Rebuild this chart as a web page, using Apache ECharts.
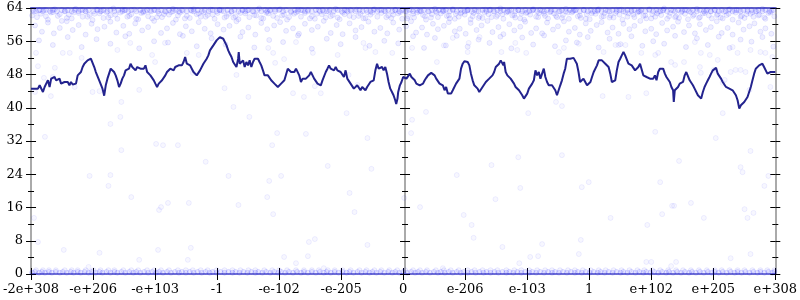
<!DOCTYPE html>
<html><head><meta charset="utf-8">
<script src="https://cdn.jsdelivr.net/npm/echarts@6/dist/echarts.min.js"></script>
<style>html,body{margin:0;padding:0;background:#fff}#c{width:800px;height:300px}</style>
</head><body><div id="c"></div>
<script>
// x tick labels (13 evenly spaced ticks over the axis)
const xTickLabels = ['-2e+308','-e+206','-e+103','-1','-e-102','-e-205','0','e-206','e-103','1','e+102','e+205','e+308'];

// running average line [position, value]
const avgLine = [
[0,44.6],[7,44.6],[8.7,45.4],[10.3,45.8],[12,43.8],[13.7,45.0],[15.3,45.8],[17,46.6],[18.7,45.0],[20.3,47.0],[22,47.2],[23.7,47.4],[25.3,46.6],[27,47.0],[28.7,47.0],[30.3,45.8],[32,45.4],[33.7,46.2],[35.3,45.8],[37,46.2],[38.7,45.4],[40.3,46.2],[42,45.6],[43.7,45.4],[45.3,45.8],[47,47.8],[48.7,48.2],[50.3,48.6],[52,49.8],[53.7,50.6],[55.3,51.0],[57,51.4],[58.7,51.4],[60.3,51.8],[62,51.4],[63.7,49.8],[65.3,48.6],[67,48.2],[68.7,46.6],[70.3,46.2],[72,44.6],[73.7,42.9],[75.3,45.4],[77,47.0],[78.7,47.4],[80.3,49.4],[82,49.4],[83.7,48.6],[85.3,47.8],[87,46.6],[88.7,45.0],[90.3,45.8],[92,47.0],[93.7,47.8],[95.3,49.0],[97,49.0],[98.7,49.4],[100.3,50.6],[102,49.8],[103.7,49.8],[105.3,49.0],[107,49.8],[108.7,49.4],[110.3,49.4],[112,49.8],[113.7,49.4],[115.3,50.2],[117,48.6],[118.7,48.6],[120.3,47.8],[122,47.8],[123.7,46.6],[125.3,45.8],[127,45.0],[128.7,45.8],[130.3,46.2],[132,46.6],[133.7,47.0],[135.3,47.8],[137,48.6],[138.7,48.2],[140.3,49.4],[142,49.4],[143.7,49.0],[145.3,49.8],[147,49.4],[148.7,50.2],[150.3,49.8],[152,50.2],[153.7,51.0],[155.3,52.2],[157,50.6],[158.7,50.6],[160.3,50.2],[162,49.4],[163.7,48.6],[165.3,48.2],[167,47.8],[168.7,47.8],[170.3,49.0],[172,49.4],[173.7,50.6],[175.3,51.0],[177,51.8],[178.7,52.6],[180.3,53.8],
[182,54.2],[183.7,55.0],[185.3,55.4],[187,56.2],[188.7,56.6],[190.3,57.0],[192,57.4],[193.7,56.6],[195.3,56.2],[197,55.0],[198.7,53.8],[200.3,53.0],[202,52.2],[203.7,51.0],[205.3,50.6],[207,49.8],[208.7,51.8],[209.3,53.4],[210.3,50.6],[212,51.0],[213.7,51.4],[215.3,49.8],[217,51.0],[218.7,50.2],[220.3,51.4],[222,49.8],[223.7,51.0],[225.3,51.8],[227,52.0],[228.7,51.8],[230.3,51.0],[232,50.2],[233.7,49.0],[235.3,47.8],[237,47.4],[238.7,47.8],[240.3,47.4],[242,46.6],[243.7,47.0],[245.3,45.8],[247,45.4],[248.7,45.0],[250.3,45.4],[252,45.8],[253.7,45.4],[255.3,46.6],[257,47.0],[258.7,49.4],[260.3,49.8],[262,48.6],[263.7,49.0],[265.3,48.6],[267,49.4],[268.7,49.8],[270.3,47.8],[272,46.2],[273.7,47.0],[275.3,47.4],[277,47.0],[278.7,47.4],[280.3,47.8],[282,48.6],[283.7,47.8],[285.3,47.0],[287,46.6],[288.7,45.8],[290.3,46.2],[292,45.4],[293.7,46.6],[295.3,46.6],[297,48.6],[298.7,49.4],[300.3,50.2],[302,49.4],[303.7,49.8],[305.3,49.0],[307,49.8],[308.7,49.0],[310.3,49.0],[312,48.6],[313.7,48.6],[315.3,47.4],[317,49.0],[318.7,47.0],[320.3,46.6],[322,45.8],[323.7,45.4],[325.3,44.6],[327,44.2],[328.7,45.4],[330.3,45.0],[332,44.2],[333.7,45.0],[335.3,44.6],[337,44.2],[338.7,45.0],[340.3,45.0],[342,46.2],[343.7,46.2],[345.3,46.6],[347,49.0],[348.7,50.6],[350.3,49.4],[352,49.4],[353.7,49.8],[355.3,49.0],[357,49.8],[358.7,48.2],[360.3,46.2],[362,44.6],[363.7,43.8],[365.3,43.0],[367,41.8],[368,40.9],[369.3,42.2],
[370,43.8],[371.7,45.4],[373.3,46.2],[375,47.4],[376.7,47.8],[378.3,47.0],[380,47.4],[381.7,48.2],[383.3,47.4],[385,47.0],[386.7,46.6],[388.3,45.8],[390,45.6],[391.7,45.4],[393.3,45.4],[395,45.8],[396.7,46.6],[398.3,47.2],[400,47.8],[401.7,48.2],[403.3,48.4],[405,48.2],[406.7,47.8],[408.3,47.0],[410,46.6],[411.7,45.8],[413.3,46.2],[415,45.4],[416.7,44.2],[418.3,45.0],[420,43.4],[421.7,43.8],[423.3,43.4],[425,44.2],[426.7,44.6],[428.3,45.8],[430,45.4],[431.7,47.0],[433.3,49.4],[435,50.6],[436.7,51.2],[438.3,51.4],[440,51.0],[441.7,50.2],[443.3,48.2],[445,46.6],[446.7,45.4],[448.3,45.0],[450,44.6],[451.7,43.8],[453.3,44.2],[455,45.0],[456.7,45.4],[458.3,46.2],[460,46.6],[461.7,47.0],[463.3,47.4],[465,47.8],[466.7,48.6],[468.3,49.8],[470,50.2],[471.7,50.6],[473.3,51.4],[475,51.8],[476,50.2],[476.7,51.0],[478.3,48.6],[480,47.8],[481.7,47.4],[483.3,47.0],[485,46.6],[486.7,45.8],[488.3,45.0],[490,44.6],[491.7,44.2],[493.3,43.8],[495,43.0],[496.7,42.2],[498.3,42.6],[500,43.4],[501.7,44.6],[503.3,44.2],[505,45.8],[506.7,46.6],[508.3,49.0],[510,47.8],[511.7,48.6],[513.3,47.0],[515,48.2],[516.7,49.4],[518.3,47.4],[520,46.2],[521.7,45.4],[523.3,45.0],[525,45.4],[526.7,45.0],[528.3,44.2],[530,43.0],[531.7,43.4],[533.3,45.4],[535,46.6],[536.7,48.2],[538.3,49.4],[540,51.8],[541.7,52.2],[543.3,51.8],[545,51.8],[546.7,52.0],[548.3,52.2],[550,50.6],[551.7,48.6],[553.3,46.2],[555,46.6],
[556.7,47.0],[558.7,46.6],[560.3,45.4],[562,45.8],[563.7,46.2],[565.3,47.4],[567,48.6],[568.7,49.0],[570.3,50.2],[572,51.4],[573.7,51.8],[575.3,51.4],[577,51.8],[578.7,50.6],[580.3,50.2],[582,49.8],[583.7,48.2],[585.3,46.2],[587,46.6],[588.7,46.6],[590.3,49.0],[592,51.0],[593.7,51.8],[595.3,52.6],[597,53.4],[598.7,52.6],[600.3,52.2],[602,50.6],[603.7,51.0],[605.3,50.2],[607,50.2],[608.7,49.0],[610.3,49.4],[612,49.8],[613.7,50.6],[615.3,50.2],[617,47.8],[618.7,47.4],[620.3,47.4],[622,47.0],[623.7,47.0],[625.3,46.6],[627,47.0],[628.7,47.8],[630.3,46.6],[632,48.6],[633.7,49.4],[635.3,49.8],[637,49.4],[638.7,48.2],[640.3,47.4],[642,47.0],[643.7,46.2],[645.3,45.0],[647,44.2],[647.7,41.4],[648.7,44.2],[650.3,44.6],[652,45.0],[653.7,45.8],[655.3,45.4],[657,46.2],[658.7,47.8],[660.3,48.6],[662,48.2],[663.7,46.6],[665.3,46.2],[667,45.4],[668.7,44.6],[670.3,44.2],[672,43.0],[673.7,43.4],[675.3,42.2],[677,43.8],[678.7,45.0],[680.3,45.8],[682,46.6],[683.7,47.4],[685.3,48.2],[687,49.0],[688.7,49.4],[690.3,49.6],[692,48.2],[693.7,47.8],[695.3,47.0],[697,46.2],[698.7,45.8],[700.3,45.0],[702,45.0],[703.7,44.6],[705.3,44.2],[707,44.2],[708.7,43.8],[710.3,43.0],[712,41.8],[713.7,39.8],[715.3,40.6],[717,41.0],[718.7,41.4],[720.3,41.8],[722,42.6],[723.7,43.0],[725.3,45.0],[727,46.6],[728.7,48.2],[730.3,49.4],[732,49.8],[733.7,50.2],[735.3,49.8],[737,50.6],[738.7,49.8],[740.3,50.2],[742,48.2],[743.7,48.6],[745.3,48.6],[747,48.6],[750,48.6]
];

// samples sitting at the top value (64) and at the bottom (0, ~1)
const topRowX = [2,9,15,22,31,37,44,52,58,67,73,80,88,95,101,110,117,124,131,139,146,152,161,168,175,183,190,198,205,213,219,228,236,241,250,257,266,272,279,287,294,301,309,316,322,331,338,345,353,360,367,374,381,389,396,404,411,418,425,433,440,447,455,462,470,476,484,491,498,506,513,520,528,535,543,549,557,564,571,579,586,593,601,608,615,623,630,637,645,652,659,667,674,681,689,696,703,711,718,726,733,740,748];
const topRowX2 = [5,12,19,26,34,41,48,55,63,70,77,84,92,98,106,113,121,128,135,143,149,157,164,172,179,187,194,202,209,216,224,232,238,246,254,262,269,276,283,291,298,305,313,319,327,334,342,349,357,364,371,378,385,393,400,408,415,422,429,437,444,451,459,466,473,480,488,495,502,510,517,524,532,539,546,553,561,568,575,583,590,597,605,612,619,627,634,641,649,656,663,671,678,685,693,700,707,715,722,730,737,744];
const zeroRowX = [1,8,14,21,29,36,43,50,58,65,72,80,87,95,103,110,118,126,133,141,149,156,164,172,180,187,195,203,210,218,226,233,241,249,256,264,272,279,287,295,302,310,318,325,333,341,348,356,364,371,379,387,394,402,410,417,425,433,440,448,456,463,471,479,486,494,502,509,517,525,532,540,548,555,563,571,578,586,594,601,609,617,624,632,640,647,655,663,670,678,686,693,701,709,716,724,732,739,747];
const zeroRowX2 = [4,11,18,25,32,40,47,54,61,69,76,84,91,99,106,114,122,129,137,145,152,160,168,176,183,191,199,206,214,222,229,237,245,252,260,268,275,283,291,298,306,314,321,329,337,344,352,360,367,375,383,390,398,406,413,421,429,436,444,452,459,467,475,482,490,498,505,513,521,528,536,544,551,559,567,574,582,590,597,605,613,620,628,636,643,651,659,666,674,682,689,697,705,712,720,728,735,743,749];
const oneRowX = [5,12,18,25,34,41,47,55,63,70,78,84,93,101,108,117,124,131,139,148,156,163,171,178,187,195,203,211,219,226,235,243,250,258,267,275,283,290,299,306,314,322,331,338,346,353,361,369,377,385,392,399,408,416,423,431,440,447,455,463,470,479,487,494,502,510,518,525,533,541,548,556,564,572,579,587,595,603,611,618,626,634,642,650,657,665,673,681,689,696,704,712,719,727,735,742,749];

// dense band of samples near the top
const bandHigh = [[3,63.1],[6,61.8],[10,62.6],[13,63.5],[17,61.2],[20,62.9],[24,63.7],[27,62.1],[31,60.9],[34,63.3],[38,62.4],[41,61.5],[45,63.8],[48,62.8],[52,61.9],[55,63.2],[59,62.3],[62,61.1],[66,63.6],[69,62.7],[73,61.6],[76,63.0],[80,62.2],[83,63.9],[87,61.4],[90,62.9],[94,63.4],[97,61.9],[101,62.5],[104,63.6],[108,61.3],[111,62.8],[115,63.2],[118,62.0],[122,61.5],[125,63.5],[129,62.6],[132,61.8],[136,63.1],[139,62.4],[143,63.8],[146,61.2],[150,62.9],[153,63.3],[157,62.1],[160,61.6],[164,63.7],[167,62.5],[171,61.9],[174,63.0],[178,62.3],[181,63.6],[185,61.4],[188,62.8],[192,63.4],[195,61.7],[199,62.6],[202,63.1],[206,62.0],[209,61.3],[213,63.5],[216,62.7],[220,61.8],[223,63.2],[227,62.2],[230,63.9],[234,61.5],[237,62.9],[241,63.3],[244,62.1],[248,61.6],[251,63.7],[255,62.4],[258,61.2],[262,63.0],[265,62.6],[269,63.6],[272,61.9],[276,62.8],[279,63.2],[283,62.0],[286,61.4],[290,63.5],[293,62.5],[297,61.7],[300,63.1],[304,62.3],[307,63.8],[311,61.3],[314,62.9],[318,63.4],[321,62.1],[325,61.8],[328,63.6],[332,62.6],[335,61.5],[339,63.0],[342,62.4],[346,63.7],[349,61.9],[353,62.8],[356,63.3],[360,62.2],[363,61.6],[367,63.5],[370,62.7],[374,61.4],[377,63.2],
[380,62.0],[383,63.6],[386,61.7],[389,62.9],[392,63.4],[395,62.3],[398,61.2],[401,63.1],[404,62.5],[407,63.8],[410,61.8],[413,62.7],[416,63.3],[419,62.1],[422,61.5],[425,63.7],[428,62.6],[431,61.9],[434,63.0],[437,62.4],[440,63.5],[443,61.3],[446,62.8],[449,63.2],[452,62.0],[455,61.6],[458,63.6],[461,62.5],[464,61.8],[467,63.1],[470,62.3],[473,63.9],[476,61.4],[479,62.9],[482,63.4],[485,62.2],[488,61.7],[491,63.5],[494,62.6],[497,61.2],[500,63.0],[503,62.4],[506,63.7],[509,61.9],[512,62.8],[515,63.3],[518,62.1],[521,61.5],[524,63.6],[527,62.7],[530,61.8],[533,63.2],[536,62.3],[539,63.8],[542,61.4],[545,62.9],[548,63.4],[551,62.0],[554,61.6],[557,63.5],[560,62.5],[563,61.3],[566,63.1],[569,62.6],[572,63.7],[575,61.9],[578,62.8],[581,63.3],[584,62.2],[587,61.7],[590,63.6],[593,62.4],[596,61.2],[599,63.0],[602,62.7],[605,63.5],[608,61.8],[611,62.9],[614,63.2],[617,62.1],[620,61.5],[623,63.7],[626,62.5],[629,61.9],[632,63.1],[635,62.3],[638,63.9],[641,61.4],[644,62.8],[647,63.4],[650,62.0],[653,61.6],[656,63.6],[659,62.6],[662,61.3],[665,63.0],[668,62.4],[671,63.8],[674,61.8],[677,62.7],[680,63.3],[683,62.2],[686,61.5],[689,63.5],[692,62.5],[695,61.7],[698,63.1],[701,62.3],[704,63.7],[707,61.2],[710,62.9],[713,63.4],[716,62.1],[719,61.6],[722,63.6],[725,62.6],[728,61.9],[731,63.2],[734,62.4],[737,63.8],[740,61.4],[743,62.8],[746,63.3],[749,62.0]];
const bandHigh2 = [[1,62.2],[8,63.4],[15,62.0],[22,63.0],[29,62.5],[36,61.6],[43,62.9],[50,63.5],[57,61.9],[64,62.6],[71,63.3],[78,61.7],[85,62.4],[92,63.6],[99,62.1],[106,61.4],[113,62.9],[120,63.4],[127,61.8],[134,62.5],[141,63.0],[148,62.2],[155,61.5],[162,63.3],[169,62.7],[176,61.9],[183,62.4],[190,63.5],[197,62.0],[204,61.7],[211,62.8],[218,63.4],[225,62.3],[232,61.6],[239,62.7],[246,63.6],[253,62.2],[260,61.8],[267,62.9],[274,63.4],[281,61.5],[288,62.6],[295,63.1],[302,62.0],[309,61.7],[316,62.5],[323,63.3],[330,62.1],[337,61.6],[344,62.9],[351,63.5],[358,61.8],[365,62.4],[372,63.0],[379,61.5],[385,62.6],[391,63.2],[397,62.0],[403,61.7],[409,62.9],[415,63.5],[421,62.2],[427,61.4],[433,62.7],[439,63.3],[445,62.0],[451,61.6],[457,62.9],[463,63.6],[469,61.9],[475,62.5],[481,63.1],[487,62.3],[493,61.5],[499,62.8],[505,63.4],[511,61.8],[517,62.6],[523,63.0],[529,62.1],[535,61.6],[541,62.9],[547,63.5],[553,62.2],[559,61.4],[565,62.7],[571,63.3],[577,62.0],[583,61.7],[589,62.8],[595,63.6],[601,61.9],[607,62.4],[613,63.1],[619,62.2],[625,61.5],[631,62.7],[637,63.4],[643,62.0],[649,61.8],[655,62.9],[661,63.5],[667,62.1],[673,61.6],[679,62.8],[685,63.2],[691,62.3],[697,61.5],[703,62.6],[709,63.4],[715,61.9],[721,62.5],[727,63.0],[733,62.2],[739,61.7],[745,62.9]];
const bandMid = [[4,59.8],[11,58.3],[17,60.5],[23,57.9],[29,59.2],[36,60.8],[42,58.7],[48,59.9],[55,57.6],[61,60.2],[67,58.9],[74,59.5],[80,60.7],[86,58.1],[93,59.7],[99,57.8],[105,60.3],[112,58.6],[118,59.4],[124,60.9],[131,58.0],[137,59.1],[143,60.4],[150,57.7],[156,59.6],[162,58.4],[169,60.6],[175,59.0],[181,57.9],[188,60.1],[194,58.8],[200,59.7],[207,60.8],[213,58.2],[219,59.3],[226,57.6],[232,60.4],[238,58.9],[245,59.8],[251,60.6],[257,58.5],[264,59.1],[270,57.8],[276,60.2],[283,58.7],[289,59.5],[295,60.9],[302,58.0],[308,59.9],[314,57.7],[321,60.3],[327,58.6],[333,59.4],[340,60.7],[346,58.3],[352,59.2],[359,57.9],[365,60.5],[371,58.8],[378,59.6],[383,60.8],[388,58.1],[394,59.3],[399,57.6],[405,60.2],[410,58.9],[416,59.7],[421,60.6],[427,58.4],[432,59.0],[438,57.8],[443,60.4],[449,58.7],[454,59.8],[460,60.9],[465,58.2],[471,59.4],[476,57.7],[482,60.1],[487,58.6],[493,59.5],[498,60.7],[504,58.0],[509,59.1],[515,57.9],[520,60.5],[526,58.8],[531,59.6],[537,60.8],[542,58.3],[548,59.2],[553,57.6],[559,60.3],[564,58.5],[570,59.9],[575,60.6],[581,58.1],[586,59.3],[592,57.8],[597,60.2],[603,58.9],[608,59.7],[614,60.9],[619,58.4],[625,59.0],[630,57.7],[636,60.4],[641,58.6],[647,59.5],[652,60.7],[658,58.2],[663,59.8],[669,57.9],[674,60.1],[680,58.7],[685,59.4],[691,60.8],[696,58.0],[702,59.2],[707,57.6],[713,60.5],[718,58.8],[724,59.6],[729,60.3],[735,58.3],[740,59.1],[746,57.8]];
const bandLow = [[8,56.2],[22,55.1],[37,57.0],[51,54.6],[66,56.5],[80,55.4],[95,57.2],[109,54.3],[124,56.0],[138,55.7],[153,57.3],[167,54.8],[182,56.7],[196,55.2],[211,57.1],[225,54.5],[240,56.3],[254,55.8],[269,57.4],[283,54.2],[298,56.6],[312,55.3],[327,57.0],[341,54.9],[356,56.1],[370,55.5],[385,57.2],[396,54.4],[407,56.8],[418,55.0],[429,57.3],[440,54.7],[451,56.4],[462,55.6],[473,57.1],[484,54.3],[495,56.9],[506,55.2],[517,57.4],[528,54.8],[539,56.2],[550,55.7],[561,57.0],[572,54.5],[583,56.6],[594,55.3],[605,57.2],[616,54.9],[627,56.0],[638,55.4],[649,57.3],[660,54.6],[671,56.7],[682,55.1],[693,57.1],[704,54.4],[715,56.4],[726,55.9],[737,57.0],[748,54.7]];
// scattered individual samples
const sparse = [[14,33.0],[80,36.1],[90,37.8],[91,41.4],[126,31.3],[133,31.0],[148,31.0],[195,44.7],[204,40.2],[220,37.8],[219,42.6],[243,31.0],[248,33.9],[277,33.7],[264,43.5],[292,43.5],[318,38.7],[339,32.7],[62,43.8],[69,44.0],[4,43.8],[20,42.8],[13,47.2],[44,45.0],[109,44.3],[22,47.4],[24,49.6],[39,53.2],[32,53.2],[5,53.2],[7,50.0],[51,52.0],[125,51.0],[87,53.9],[100,55.6],[122,52.7],[135,55.6],[157,53.2],[163,48.4],[169,52.7],[207,47.9],[239,54.4],[246,50.8],[244,53.2],[255,51.7],[267,55.8],[284,53.2],[335,55.6],[337,54.4],[347,53.4],[364,53.2],[309,52.7],[320,47.9],[329,45.5],[275,42.6],[286,45.2],
[384,54.4],[409,51.0],[398,39.0],[384,37.1],[383,33.9],[416,55.0],[425,56.8],[441,55.6],[440,53.4],[452,57.0],[474,53.4],[488,55.6],[490,53.9],[499,53.2],[501,38.7],[529,41.4],[535,40.4],[532,53.4],[537,54.4],[552,55.4],[576,42.8],[577,53.4],[589,55.1],[592,55.1],[599,55.1],[602,42.6],[620,43.5],[615,53.2],[629,52.7],[632,53.2],[645,51.0],[649,50.3],[658,51.0],[669,55.8],[675,53.2],[684,52.7],[674,49.8],[675,48.4],[688,49.1],[697,46.0],[699,46.7],[692,51.5],[707,54.6],[712,53.2],[705,48.6],[710,49.1],[715,49.1],[720,48.6],[724,44.3],[745,45.0],[697,38.7],[690,32.7],[629,34.2],[725,53.9],[735,53.4],[740,53.2],[747,52.2],
[91,29.8],[59,23.6],[80,23.8],[78,21.2],[101,18.5],[129,15.4],[131,16.1],[138,17.1],[159,17.1],[176,27.0],[199,23.6],[209,16.6],[238,18.5],[240,22.4],[252,23.6],[244,14.4],[299,26.0],[321,19.5],[326,14.9],[343,25.3],[3,13.5],[7,7.7],[33,5.8],[69,5.1],[128,5.8],[109,3.4],[161,6.3],[158,3.4],[58,1.7],[255,4.1],[267,2.6],[280,7.7],[286,8.4],[279,4.3],[339,7.0],[295,1.4],
[491,28.1],[535,28.6],[464,26.2],[429,23.8],[493,20.7],[562,22.1],[555,20.9],[653,27.2],[634,22.1],[725,29.6],[715,25.7],[717,24.5],[743,23.6],[739,21.2],[376,18.3],[392,16.1],[468,18.0],[436,14.2],[646,16.4],[648,16.4],[665,17.1],[636,14.4],[678,13.5],[719,15.6],[728,14.7],[722,13.5],[584,13.5],[621,11.8],[444,11.8],[446,8.7],[475,6.5],[515,7.2],[554,8.2],[552,4.8],[503,4.1],[511,4.3],[492,2.6],[620,2.9],[625,2.9],[650,2.9],[645,1.9],[705,3.8],[725,4.8],[415,1.4]];

const edgeRows = [].concat(topRowX.map(x => [x, 63.5]), topRowX2.map(x => [x, 63.2]),
  zeroRowX.map(x => [x, 0.3]), zeroRowX2.map(x => [x, 0.5]));
const nearZeroRow = oneRowX.map(x => [x, 0.9]);
const bandData = [].concat(bandHigh, bandHigh2, bandMid, bandLow);

const chart = echarts.init(document.getElementById('c'), null, {renderer: 'canvas'});
const FONT = 'DejaVu Serif';
const X_STEP = 62.5;
function yAx(position, offset, inside, labels) {
  return {
    type: 'value', min: 0, max: 64, interval: 8, position: position, offset: offset,
    axisLine: {show: !inside, lineStyle: {color: '#aaaaaa', width: 2}},
    axisTick: {show: true, inside: inside, length: 5, lineStyle: {color: '#000', width: 1}},
    minorTick: {show: true, splitNumber: 2, length: 3, lineStyle: {color: '#000', width: 1}},
    axisLabel: {show: labels, fontFamily: FONT, fontSize: 13, color: '#000', margin: 8},
    splitLine: {show: false}
  };
}
function dots(data, fillA, strokeA) {
  return {type: 'scatter', xAxisIndex: 0, yAxisIndex: 0, data: data, symbol: 'circle', symbolSize: 5,
    itemStyle: {color: 'rgba(0,0,255,' + fillA + ')', borderColor: 'rgba(0,0,255,' + strokeA + ')', borderWidth: 1},
    silent: true, z: 2};
}
chart.setOption({
  animation: false,
  backgroundColor: '#fff',
  grid: {left: 28, right: 22, top: 8, bottom: 26, containLabel: false},
  xAxis: [
    {type: 'value', min: 0, max: 750, interval: X_STEP, position: 'bottom',
     axisLine: {show: true, onZero: false, lineStyle: {color: '#7c7cd0', width: 2}},
     axisTick: {show: true, length: 6, lineStyle: {color: '#000'}},
     axisLabel: {fontFamily: FONT, fontSize: 13, color: '#000', margin: 9,
       formatter: v => xTickLabels[Math.round(v / X_STEP)] || ''},
     splitLine: {show: false}},
    {type: 'value', min: 0, max: 750, interval: X_STEP, position: 'bottom',
     axisLine: {show: false, onZero: false},
     axisTick: {show: true, inside: true, length: 6, lineStyle: {color: '#000'}},
     axisLabel: {show: false}, splitLine: {show: false}},
    {type: 'value', min: 0, max: 750, position: 'top',
     axisLine: {show: true, onZero: false, lineStyle: {color: '#6464c4', width: 2}},
     axisTick: {show: false}, axisLabel: {show: false}, splitLine: {show: false}}
  ],
  yAxis: [
    yAx('left', 0, false, true),
    yAx('left', 0, true, false),
    yAx('left', -374, false, false),
    yAx('left', -374, true, false),
    yAx('right', 0, false, false),
    yAx('right', 0, true, false)
  ],
  series: [
    dots(sparse, 0.04, 0.08),
    dots(nearZeroRow, 0.05, 0.1),
    dots(bandData, 0.08, 0.11),
    dots(edgeRows, 0.1, 0.14),
    {type: 'line', xAxisIndex: 0, yAxisIndex: 0, data: avgLine, showSymbol: false, symbol: 'none',
     lineStyle: {color: '#23238e', width: 2}, silent: true, z: 5}
  ]
});
</script></body></html>
